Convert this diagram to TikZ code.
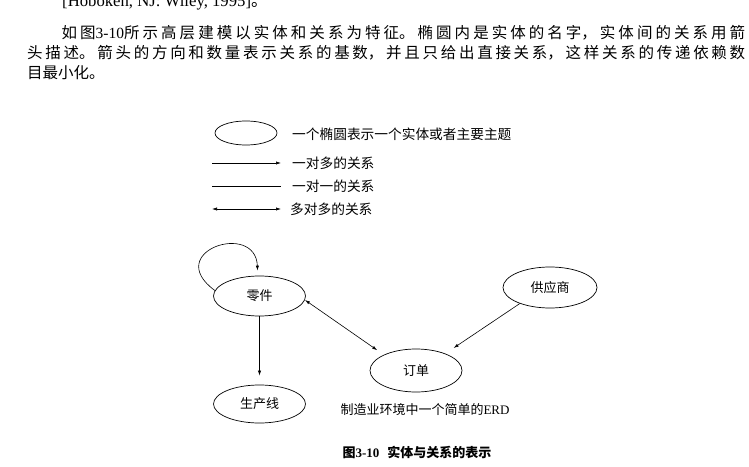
\documentclass[tikz,border=0pt]{standalone}
\usepackage{fontspec}
\setmainfont{Noto Sans CJK SC}
\newfontfamily\lat{Liberation Serif}
\usetikzlibrary{shapes.geometric,arrows.meta}

\begin{document}
\begin{tikzpicture}[x=1pt,y=1pt,>={Latex[length=5pt,width=3.2pt]},
    ent/.style={draw,ellipse,line width=0.7pt,inner sep=0pt,minimum width=92pt,minimum height=40pt,font=\fontsize{13}{15}\selectfont},
    lab/.style={anchor=west,inner sep=0pt,font=\fontsize{13.7}{15}\selectfont},
    conn/.style={line width=0.6pt}]
    \path[use as bounding box,clip] (0,0) rectangle (749,466);
    % text of the page
    \node[anchor=base west,inner sep=0pt,font=\fontsize{16.7}{20}\selectfont] (ref) at (62,459.5) {{\lat [Hoboken, NJ: Wiley, 1995]}。};
    \node[anchor=north west,inner sep=0pt,text width=718pt,align=justify,font=\fontsize{15.5}{20}\selectfont] (para) at (27,441)
        {\XeTeXlinebreaklocale "zh"\XeTeXlinebreakskip=0pt plus 1fil
        \noindent\hspace*{34.5pt}如图{\lat 3-10}所示高层建模以实体和关系为特征。椭圆内是实体的名字，实体间的关系用箭\linebreak
        头描述。箭头的方向和数量表示关系的基数，并且只给出直接关系，这样关系的传递依赖数\linebreak
        目最小化。\hfill\mbox{}};
    % key
    \node[draw,ellipse,line width=0.7pt,inner sep=0pt,minimum width=62pt,minimum height=24pt] (key) at (246,333) {};
    \node[lab] (keyt) at (292,332) {一个椭圆表示一个实体或者主要主题};
    \coordinate (oma) at (212,303);
    \coordinate (omb) at (281,303);
    \coordinate (ooa) at (212,280);
    \coordinate (oob) at (281,280);
    \coordinate (mma) at (212,257);
    \coordinate (mmb) at (281,257);
    \draw[conn,->] (oma) -- (omb);
    \draw[conn] (ooa) -- (oob);
    \draw[conn,<->] (mma) -- (mmb);
    \node[lab] (omt) at (292,303) {一对多的关系};
    \node[lab] (oot) at (292,280) {一对一的关系};
    \node[lab] (mmt) at (290,257) {多对多的关系};
    % entities
    \node[ent] (part) at (259.5,170) {零件};
    \node[ent,minimum height=38pt] (pline) at (259.5,62) {生产线};
    \node[ent,minimum height=43pt] (order) at (416,95.5) {订单};
    \node[ent,minimum width=94pt,minimum height=41pt] (sup) at (550,178.5) {供应商};
    \draw[conn,->,shorten >=5pt] (part.173) .. controls +(-53,39) and +(-2,55) .. (part.95);
    \draw[conn,->,shorten >=9pt] (part.south) -- (pline.north);
    \draw[conn,<->,shorten >=8pt] (part.-5) -- (order.154);
    \draw[conn,->,shorten >=10pt] (sup.208) -- (order.30);
    \node[inner sep=0pt,font=\fontsize{13}{15}\selectfont] (erd) at (425,56) {制造业环境中一个简单的{\lat ERD}};
    % caption
    \node[inner sep=0pt,font=\bfseries\fontsize{13}{15}\selectfont] (cap) at (417,14) {图{\lat\bfseries 3-10}\hspace{8pt}实体与关系的表示};
\end{tikzpicture}
\end{document}
